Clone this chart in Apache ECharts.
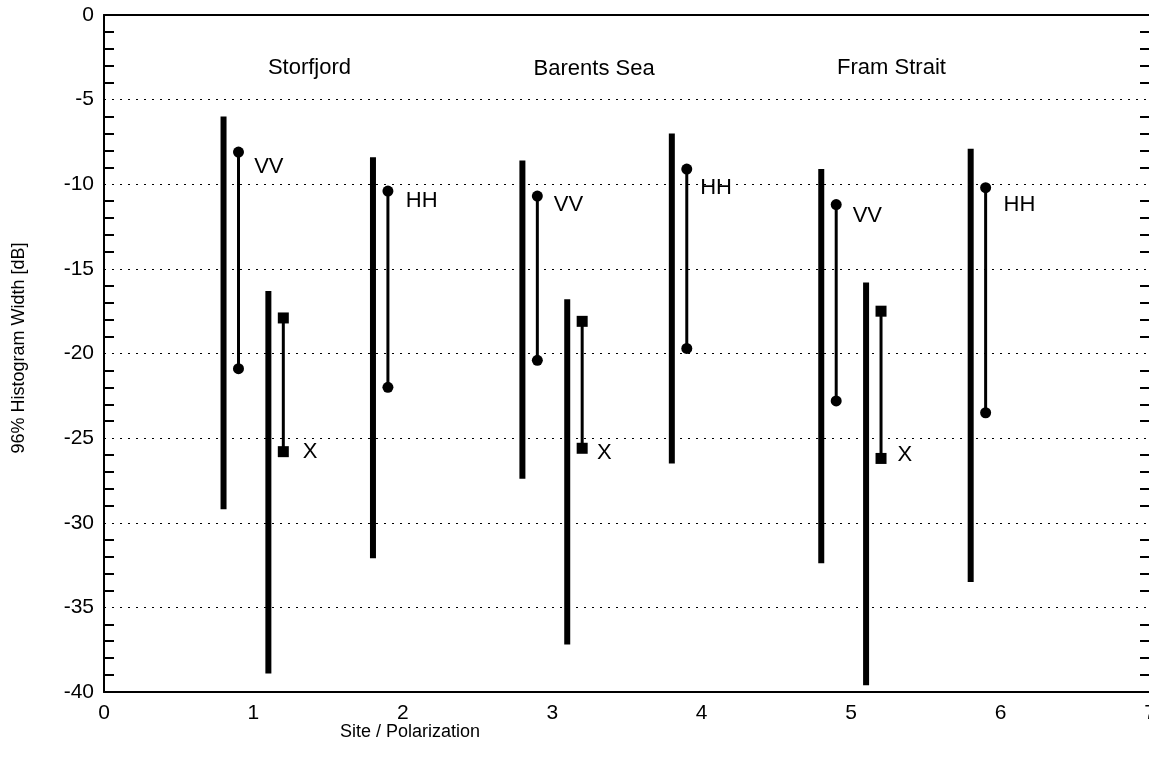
<!DOCTYPE html>
<html>
<head>
<meta charset="utf-8">
<title>96% Histogram Width</title>
<script src="https://cdn.jsdelivr.net/npm/echarts@6/dist/echarts.min.js"></script>
<style>
  html, body { margin: 0; padding: 0; background: #fff; }
  #chart { width: 1149px; height: 769px; }
</style>
</head>
<body>
<div id="chart"></div>
<script>
// site names and where their titles sit (data units)
const sites = ['Storfjord', 'Barents Sea', 'Fram Strait']
const siteX = [1.375, 3.28, 5.27]
const siteY = [-3.1, -3.2, -3.1]

// thick bars: full range per site/polarization
const rangeX = [0.8, 1.1, 1.8, 2.8, 3.1, 3.8, 4.8, 5.1, 5.8]
const rangeTop = [-6.0, -16.3, -8.4, -8.6, -16.8, -7.0, -9.1, -15.8, -7.9]
const rangeBottom = [-29.2, -38.9, -32.1, -27.4, -37.2, -26.5, -32.4, -39.6, -33.5]

// thin bars with end markers: 96% width
const polX = [0.9, 1.2, 1.9, 2.9, 3.2, 3.9, 4.9, 5.2, 5.9]
const polName = ['VV', 'X', 'HH', 'VV', 'X', 'HH', 'VV', 'X', 'HH']
const polTop = [-8.1, -17.9, -10.4, -10.7, -18.1, -9.1, -11.2, -17.5, -10.2]
const polBottom = [-20.9, -25.8, -22.0, -20.4, -25.6, -19.7, -22.8, -26.2, -23.5]
const labelX = [1.005, 1.33, 2.02, 3.01, 3.30, 3.99, 5.01, 5.31, 6.02]
const labelY = [-8.95, -25.8, -11.0, -11.2, -25.9, -10.2, -11.9, -26.0, -11.2]

const FONT = '"Liberation Sans", Arial, sans-serif'

const chart = echarts.init(document.getElementById('chart'), null, { renderer: 'canvas' })

function renderRange(params, api) {
  const top = api.coord([api.value(0), api.value(1)])
  const bot = api.coord([api.value(0), api.value(2)])
  return {
    type: 'line',
    shape: { x1: top[0], y1: top[1], x2: bot[0], y2: bot[1] },
    style: { stroke: '#000', lineWidth: 6 },
  }
}

function renderPol(params, api) {
  const i = params.dataIndex
  const top = api.coord([polX[i], polTop[i]])
  const bot = api.coord([polX[i], polBottom[i]])
  const lab = api.coord([labelX[i], labelY[i]])
  const isX = polName[i] === 'X'
  const marker = p => isX
    ? { type: 'rect', shape: { x: p[0] - 5.5, y: p[1] - 5.5, width: 11, height: 11 }, style: { fill: '#000' } }
    : { type: 'circle', shape: { cx: p[0], cy: p[1], r: 5.5 }, style: { fill: '#000' } }
  return {
    type: 'group',
    children: [
      { type: 'line', shape: { x1: top[0], y1: top[1], x2: bot[0], y2: bot[1] }, style: { stroke: '#000', lineWidth: 3 } },
      marker(top),
      marker(bot),
      {
        type: 'text',
        x: lab[0],
        y: lab[1],
        style: { text: polName[i], fill: '#000', font: '22px ' + FONT, align: 'left', verticalAlign: 'middle' },
      },
    ],
  }
}

function renderSite(params, api) {
  const i = params.dataIndex
  const p = api.coord([siteX[i], siteY[i]])
  return {
    type: 'text',
    x: p[0],
    y: p[1],
    style: { text: sites[i], fill: '#000', font: '22px ' + FONT, align: 'center', verticalAlign: 'middle' },
  }
}

const option = {
  animation: false,
  backgroundColor: '#fff',
  textStyle: { fontFamily: FONT },
  grid: { left: 104, right: -1, top: 15, bottom: 77, outerBoundsMode: 'none', containLabel: false },
  xAxis: [
    {
      type: 'value',
      min: 0,
      max: 7,
      interval: 1,
      axisLine: { onZero: false, lineStyle: { color: '#000', width: 2 } },
      axisTick: { show: false },
      axisLabel: { color: '#000', fontSize: 21, margin: 11 },
      splitLine: { show: false },
    },
    {
      type: 'value',
      position: 'top',
      min: 0,
      max: 7,
      interval: 1,
      axisLine: { show: true, onZero: false, lineStyle: { color: '#000', width: 2 } },
      axisTick: { show: false },
      axisLabel: { show: false },
      splitLine: { show: false },
    },
  ],
  yAxis: [
    {
      type: 'value',
      min: -40,
      max: 0,
      interval: 5,
      axisLine: { show: true, onZero: false, lineStyle: { color: '#000', width: 2 } },
      axisTick: { show: false, inside: true },
      minorTick: { show: true, splitNumber: 5, length: 10, lineStyle: { color: '#000', width: 2 } },
      axisLabel: { color: '#000', fontSize: 21, margin: 10 },
      splitLine: { show: true, lineStyle: { color: '#000', width: 1, type: [2, 6] } },
    },
    {
      type: 'value',
      position: 'right',
      min: -40,
      max: 0,
      interval: 5,
      axisLine: { show: false, onZero: false },
      axisTick: { show: false, inside: true },
      minorTick: { show: true, splitNumber: 5, length: 10, lineStyle: { color: '#000', width: 2 } },
      axisLabel: { show: false },
      splitLine: { show: false },
    },
  ],
  graphic: [
    {
      type: 'text',
      x: 410,
      y: 732,
      style: { text: 'Site / Polarization', fill: '#000', font: '18px ' + FONT, align: 'center', verticalAlign: 'middle' },
    },
    {
      type: 'text',
      x: 19,
      y: 348,
      rotation: Math.PI / 2,
      style: { text: '96% Histogram Width [dB]', fill: '#000', font: '18px ' + FONT, align: 'center', verticalAlign: 'middle' },
    },
  ],
  series: [
    {
      type: 'custom',
      name: 'range',
      renderItem: renderRange,
      encode: { x: 0, y: [1, 2] },
      data: rangeX.map((x, i) => [x, rangeTop[i], rangeBottom[i]]),
    },
    {
      type: 'custom',
      name: 'polarization',
      renderItem: renderPol,
      encode: { x: 0, y: [1, 2] },
      data: polX.map((x, i) => [x, polTop[i], polBottom[i]]),
    },
    {
      type: 'custom',
      name: 'sites',
      renderItem: renderSite,
      encode: { x: 0, y: 1 },
      data: siteX.map((x, i) => [x, siteY[i]]),
    },
  ],
}

chart.setOption(option)
window.addEventListener('resize', () => chart.resize())
</script>
</body>
</html>
